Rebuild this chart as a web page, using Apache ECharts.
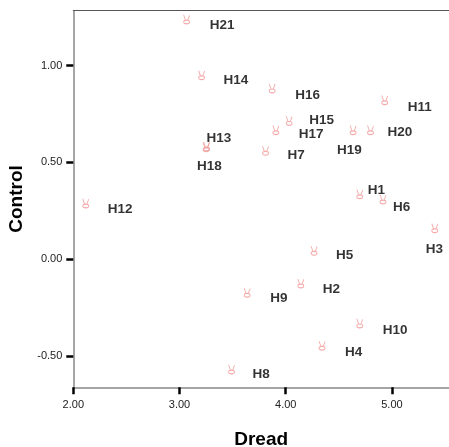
<!DOCTYPE html>
<html>
<head>
<meta charset="utf-8">
<script src="https://cdn.jsdelivr.net/npm/echarts@6/dist/echarts.min.js"></script>
<style>html,body{margin:0;padding:0;background:#fff;}#c{width:449px;height:447px;}</style>
</head>
<body>
<div id="c"></div>
<script>
const names = ['H1','H2','H3','H4','H5','H6','H7','H8','H9','H10','H11','H12','H13','H14','H15','H16','H17','H18','H19','H20','H21'];
const dread = [4.697,4.142,5.403,4.342,4.267,4.916,3.810,3.490,3.637,4.697,4.932,2.117,3.255,3.208,4.032,3.872,3.907,3.250,4.634,4.798,3.067];
const control = [0.336,-0.126,0.160,-0.448,0.043,0.309,0.560,-0.570,-0.174,-0.332,0.822,0.288,0.582,0.951,0.715,0.883,0.667,0.578,0.667,0.667,1.239];
const xTicks = [2,3,4,5];
const yTicks = [-0.5,0,0.5,1];

// label placement (pixels, relative to marker)
const labelNudge = {
  H1:[8,-4],H2:[22,6],H3:[-9,21],H4:[23,7],H5:[22,5],H6:[10,8],H7:[22,5],H8:[21,5],H9:[23,6],H10:[23,7],
  H11:[23,7],H12:[22,6],H13:[0,-8],H14:[22,5],H15:[20,0],H16:[23,7],H17:[23,4],H18:[-9,19],H19:[-16,20],H20:[17,2],H21:[23,6]
};

const pts = names.map((n,i)=>({value:[dread[i],control[i]], name:n,
  label:{offset:labelNudge[n]}}));

const handPath = 'path://M1.5,0 L3,6 M6.5,0.5 L5,6 M1.5,8.5 C1.5,5.5 6.5,5.5 6.5,8.5 C6.5,11.5 1.5,11.5 1.5,8.5 Z';

const chart = echarts.init(document.getElementById('c'), null, {renderer:'canvas'});
chart.setOption({
  animation:false,
  grid:{left:73.3,right:0,top:10.7,bottom:59.7,outerBoundsMode:'none',containLabel:false},
  xAxis:[{type:'value',min:2,max:5.537,name:'Dread',nameLocation:'middle',nameGap:43,
    nameTextStyle:{fontFamily:'Liberation Sans',fontWeight:'bold',fontSize:19,color:'#000'},
    splitLine:{show:false},
    axisLine:{show:true,onZero:false,lineStyle:{color:'#888',width:1.5}},
    axisTick:{show:true,customValues:xTicks,length:7,lineStyle:{color:'#000',width:2.5}},
    axisLabel:{customValues:xTicks,margin:12,fontFamily:'Liberation Sans',fontSize:11,color:'#222',formatter:v=>v.toFixed(2)}},
   {type:'value',position:'top',min:2,max:5.537,splitLine:{show:false},
    axisLine:{show:true,onZero:false,lineStyle:{color:'#555',width:1}},axisTick:{show:false},axisLabel:{show:false}}],
  yAxis:{type:'value',min:-0.663,max:1.284,name:'Control',nameLocation:'middle',nameGap:47,nameRotate:90,
    nameTextStyle:{fontFamily:'Liberation Sans',fontWeight:'bold',fontSize:19,color:'#000'},
    splitLine:{show:false},
    axisLine:{show:true,onZero:false,lineStyle:{color:'#888',width:1.5}},
    axisTick:{show:true,customValues:yTicks,length:7,lineStyle:{color:'#000',width:2.5}},
    axisLabel:{customValues:yTicks,margin:11,fontFamily:'Liberation Sans',fontSize:11,color:'#222',formatter:v=>v.toFixed(2)}},
  series:[
    {type:'scatter',data:names.map((n,i)=>[dread[i],control[i]]),symbol:handPath,symbolSize:[6,9],
      itemStyle:{color:'rgba(255,255,255,0)',borderColor:'#f29494',borderWidth:1}},
    {type:'scatter',data:pts,symbolSize:0.1,itemStyle:{color:'rgba(0,0,0,0)'},
      label:{show:true,position:'inside',align:'left',verticalAlign:'middle',textBorderWidth:0,
        formatter:p=>p.name,fontFamily:'Liberation Sans',fontWeight:'bold',fontSize:13.5,color:'#000'}}
  ]
});
</script>
</body>
</html>
